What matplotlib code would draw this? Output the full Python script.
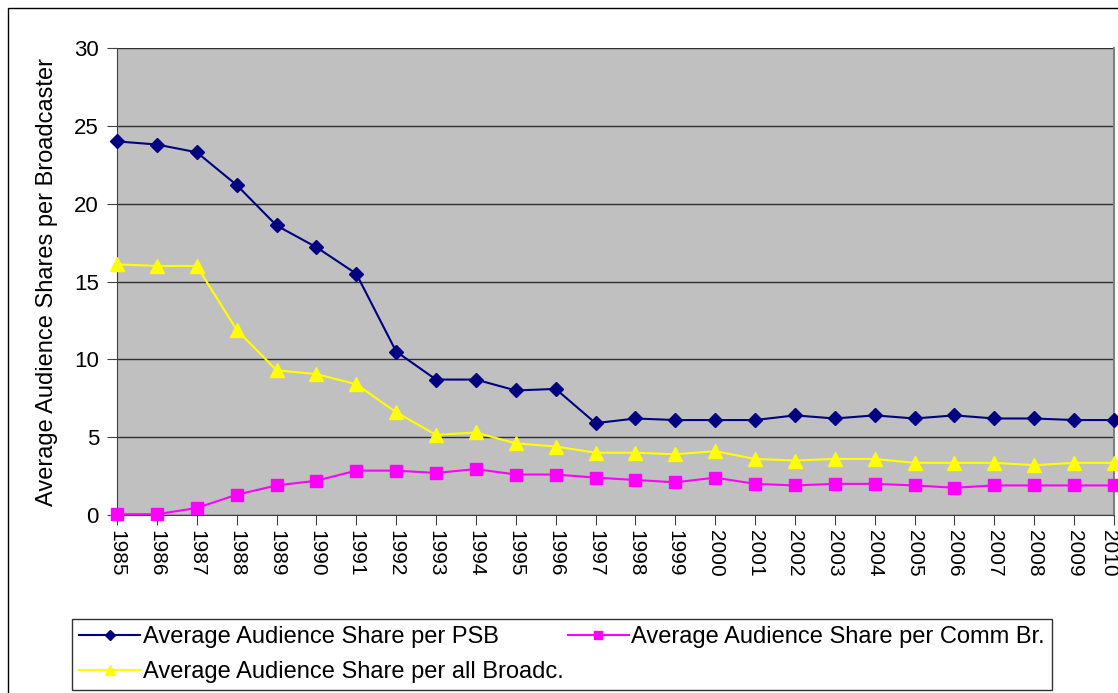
import matplotlib
matplotlib.use('Agg')
import matplotlib.pyplot as plt
from matplotlib.patches import Rectangle
from matplotlib.transforms import ScaledTranslation

plt.rcParams['font.family'] = ['Liberation Sans', 'DejaVu Sans']

years = list(range(1985, 2011))
psb = [24.0, 23.8, 23.3, 21.2, 18.6, 17.2, 15.5, 10.5, 8.7, 8.7, 8.0, 8.1, 5.9,
       6.2, 6.1, 6.1, 6.1, 6.4, 6.2, 6.4, 6.2, 6.4, 6.2, 6.2, 6.1, 6.1]
comm = [0.05, 0.05, 0.45, 1.3, 1.9, 2.2, 2.85, 2.85, 2.7, 2.95, 2.6, 2.6, 2.4,
        2.25, 2.1, 2.4, 2.0, 1.9, 2.0, 2.0, 1.9, 1.75, 1.9, 1.9, 1.9, 1.9]
allb = [16.1, 16.0, 16.0, 11.9, 9.3, 9.05, 8.4, 6.6, 5.15, 5.3, 4.6, 4.4, 4.0,
        4.0, 3.9, 4.1, 3.6, 3.5, 3.6, 3.6, 3.35, 3.35, 3.35, 3.2, 3.35, 3.35]

fig = plt.figure(figsize=(11.18, 6.93), dpi=100)
ax = fig.add_axes([117 / 1118, 1 - 515 / 693, (1114 - 117) / 1118, (515 - 48) / 693])
ax.set_facecolor('#C0C0C0')

# outer frame of the chart
fig.patches.append(Rectangle((8 / 1118, -0.01), 1.02, 1 - 8 / 693 + 0.01,
                             transform=fig.transFigure, fill=False,
                             edgecolor='black', linewidth=1))

l1, = ax.plot(years, psb, color='#000080', marker='D', markersize=7.5, linewidth=1.5,
              label='Average Audience Share per PSB', clip_on=False, zorder=3)
l2, = ax.plot(years, comm, color='#FF00FF', marker='s', markersize=9, linewidth=1.5,
              label='Average Audience Share per Comm Br.', clip_on=False, zorder=3)
l3, = ax.plot(years, allb, color='#FFFF00', marker='^', markersize=10.5, linewidth=1.5,
              label='Average Audience Share per all Broadc.', clip_on=False, zorder=3)

ax.set_xlim(1985, 2010)
ax.set_ylim(0, 30)
ax.set_yticks(range(0, 31, 5))
ax.set_xticks(years)
ax.set_xticklabels([str(y) for y in years], rotation=-90, fontsize=15)
ax.tick_params(axis='y', labelsize=16, direction='out', length=7, pad=6, color='#404040')
ax.tick_params(axis='x', direction='out', length=7, pad=4, color='#404040')
ax.yaxis.grid(True, color='#303030', linewidth=1)
ax.set_axisbelow(True)
for s in ['left', 'bottom']:
    ax.spines[s].set_color('#404040')
ax.spines['top'].set_visible(False)
ax.spines['right'].set_color('#808080')
ax.spines['right'].set_linewidth(1.5)

# nudge the last year label so it stays inside the figure
last = ax.get_xticklabels()[-1]
last.set_transform(last.get_transform() + ScaledTranslation(-4 / 72, 0, fig.dpi_scale_trans))

ax.set_ylabel('Average Audience Shares per Broadcaster', fontsize=17)
ax.yaxis.set_label_coords(-59 / 997, 0.5)

leg = fig.legend([l1, l3, l2], [l1.get_label(), l3.get_label(), l2.get_label()],
                 loc='lower left', bbox_to_anchor=(72 / 1118, 3 / 693, (1052 - 72) / 1118, 82 / 693),
                 mode='expand', ncol=2, fontsize=17, frameon=True, fancybox=False,
                 handlelength=2.6, handletextpad=0.1, borderaxespad=0, markerscale=0.65,
                 labelspacing=0.55, columnspacing=1.0, borderpad=0.3)
leg.get_frame().set_edgecolor('black')
leg.get_frame().set_linewidth(1)

fig.savefig('out.png', dpi=100)
